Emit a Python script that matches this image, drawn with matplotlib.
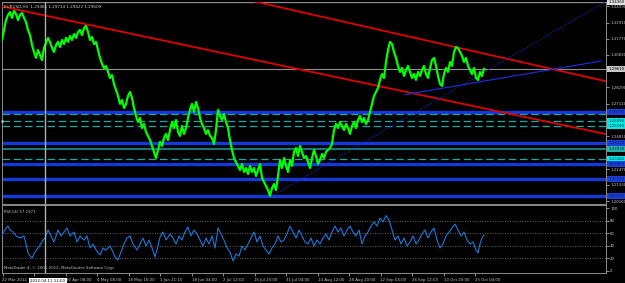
import matplotlib
matplotlib.use("Agg")
import matplotlib.pyplot as plt
import numpy as np

# ---------------- data ----------------
symbol_text = "EURUSD,H4  1.29481 1.29734 1.29422 1.29609"
rsi_text = "RSI(14) 57.1971"
copyright_text = "MetaTrader 4, \u00a9 2001-2012, MetaQuotes Software Corp."

# close prices, one sample every 2 bars
close_prices = [
    1.3167, 1.3238, 1.3309, 1.3345, 1.3366, 1.3324, 1.3374, 1.3352, 1.3309, 1.3345,
    1.3359, 1.3324, 1.3295, 1.3238, 1.3202, 1.3131, 1.3081, 1.3039, 1.3095, 1.3060,
    1.3024, 1.3110, 1.3145, 1.3181, 1.3153, 1.3110, 1.3081, 1.3131, 1.3153, 1.3117,
    1.3167, 1.3138, 1.3181, 1.3153, 1.3195, 1.3167, 1.3210, 1.3181, 1.3224, 1.3238,
    1.3202, 1.3252, 1.3267, 1.3224, 1.3167, 1.3188, 1.3138, 1.3153, 1.3095, 1.3039,
    1.2996, 1.2967, 1.2982, 1.2939, 1.2896, 1.2917, 1.2853, 1.2810, 1.2768, 1.2711,
    1.2739, 1.2682, 1.2711, 1.2768, 1.2796, 1.2753, 1.2682, 1.2625, 1.2582, 1.2611,
    1.2539, 1.2568, 1.2511, 1.2483, 1.2454, 1.2411, 1.2369, 1.2325, 1.2383, 1.2440,
    1.2411, 1.2468, 1.2497, 1.2454, 1.2525, 1.2582, 1.2539, 1.2596, 1.2511, 1.2483,
    1.2554, 1.2497, 1.2539, 1.2611, 1.2668, 1.2711, 1.2653, 1.2725, 1.2682, 1.2611,
    1.2568, 1.2539, 1.2497, 1.2525, 1.2483, 1.2468, 1.2425, 1.2525, 1.2668, 1.2625,
    1.2596, 1.2639, 1.2582, 1.2539, 1.2454, 1.2383, 1.2325, 1.2297, 1.2269, 1.2240,
    1.2283, 1.2226, 1.2254, 1.2211, 1.2269, 1.2226, 1.2254, 1.2197, 1.2240, 1.2283,
    1.2183, 1.2154, 1.2126, 1.2097, 1.2055, 1.2112, 1.2140, 1.2097, 1.2197, 1.2311,
    1.2254, 1.2325, 1.2269, 1.2226, 1.2311, 1.2269, 1.2369, 1.2397, 1.2340, 1.2411,
    1.2369, 1.2325, 1.2340, 1.2297, 1.2254, 1.2325, 1.2383, 1.2340, 1.2283, 1.2311,
    1.2354, 1.2325, 1.2369, 1.2383, 1.2397, 1.2425, 1.2525, 1.2568, 1.2539, 1.2582,
    1.2554, 1.2525, 1.2568, 1.2539, 1.2497, 1.2554, 1.2582, 1.2539, 1.2596, 1.2625,
    1.2582, 1.2611, 1.2568, 1.2596, 1.2653, 1.2711, 1.2768, 1.2796, 1.2825, 1.2882,
    1.2924, 1.2896, 1.3010, 1.3095, 1.3153, 1.3138, 1.3081, 1.3039, 1.2982, 1.2939,
    1.2967, 1.2910, 1.2953, 1.2982, 1.2939, 1.2896, 1.2924, 1.2882, 1.2939, 1.2910,
    1.2953, 1.2982, 1.2924, 1.2896, 1.2967, 1.3024, 1.3039, 1.2982, 1.2910, 1.2853,
    1.2839, 1.2924, 1.2967, 1.2939, 1.3010, 1.2982, 1.3081, 1.3117, 1.3110, 1.3081,
    1.3053, 1.3010, 1.3039, 1.2982, 1.2953, 1.2924, 1.2967, 1.2896, 1.2882, 1.2939,
    1.2910, 1.2961,
]
close_bars = np.arange(0, 2 * len(close_prices), 2)

rsi_bars = [0, 4, 6, 8, 11, 14, 18, 22, 24, 26, 28, 30, 33, 36, 38, 41, 43, 46, 49, 52,
            56, 59, 62, 65, 68, 72, 75, 78, 82, 85, 88, 91, 94, 98, 101, 104, 108, 111, 113, 116,
            119, 122, 125, 128, 131, 135, 138, 141, 144, 147, 150, 153, 156, 158, 161, 164, 168, 171, 174, 177,
            180, 183, 186, 189, 192, 195, 198, 201, 204, 207, 210, 213, 216, 219, 222, 225, 228, 231, 234, 237,
            240, 243, 246, 249, 252, 255, 258, 261, 264, 267, 270, 273, 276, 279, 282, 285, 288, 291, 294, 297,
            300, 303, 306, 309, 312, 315, 318, 321, 324, 327, 330, 333, 336, 339, 342, 345, 348, 351, 354, 357,
            360, 363, 366, 369, 372, 375, 378, 381, 384, 387, 390, 393, 396, 399, 402, 405, 408, 411, 414, 417,
            420, 423, 426, 429, 432, 435, 438, 441, 444, 447, 450, 453, 456, 459, 462, 465, 468, 471, 474, 476,
            478, 480, 482]
rsi_values = [57.1, 68.3, 71.4, 65.1, 61.9, 55.6, 52.4, 55.6, 42.9, 28.6, 23.8, 20.6, 30.2, 36.5, 41.3, 49.2, 52.4, 65.1, 55.6, 46.0,
              65.1, 55.6, 61.9, 68.3, 55.6, 61.9, 46.0, 55.6, 49.2, 55.6, 36.5, 42.9, 33.3, 25.4, 36.5, 33.3, 39.7, 30.2, 22.2, 17.5,
              30.2, 42.9, 52.4, 55.6, 42.9, 33.3, 42.9, 52.4, 39.7, 49.2, 36.5, 22.2, 39.7, 54.0, 61.9, 49.2, 58.7, 52.4, 42.9, 55.6,
              49.2, 61.9, 69.8, 55.6, 65.1, 58.7, 49.2, 39.7, 52.4, 42.9, 55.6, 36.5, 68.3, 58.7, 49.2, 36.5, 30.2, 15.9, 27.0, 23.8,
              39.7, 33.3, 42.9, 52.4, 61.9, 46.0, 55.6, 39.7, 33.3, 27.0, 36.5, 42.9, 55.6, 46.0, 49.2, 58.7, 71.4, 61.9, 52.4, 65.1,
              55.6, 46.0, 42.9, 52.4, 39.7, 49.2, 42.9, 52.4, 58.7, 49.2, 61.9, 71.4, 61.9, 68.3, 55.6, 65.1, 71.4, 61.9, 55.6, 65.1,
              42.9, 55.6, 61.9, 71.4, 77.8, 71.4, 84.1, 77.8, 88.0, 81.0, 65.1, 49.2, 55.6, 42.9, 52.4, 39.7, 46.0, 55.6, 42.9, 49.2,
              58.7, 65.1, 52.4, 61.9, 68.3, 49.2, 36.5, 42.9, 55.6, 61.9, 68.3, 74.6, 65.1, 55.6, 61.9, 49.2, 42.9, 46.0, 33.3, 28.6,
              42.9, 52.4, 57.2]

# horizontal levels
blue_levels = [1.2653, 1.2432, 1.2283, 1.2174, 1.2055]
teal_dashed_levels = [1.2637, 1.2589, 1.2554, 1.2316]
teal_solid_levels = [1.2393]
bid_price = 1.2961
cross_price = 1.3436
cross_bar = 43

# trend lines (bar, price) end points
red_line1_bars = [0, 603]
red_line1_prices = [1.3406, 1.2497]
red_line2_bars = [246, 603]
red_line2_prices = [1.3452, 1.2874]
blue_dotted_bars = [268, 603]
blue_dotted_prices = [1.2047, 1.3438]
blue_solid_bars = [403, 599]
blue_solid_prices = [1.2777, 1.3017]

price_ticks = [1.3409, 1.3291, 1.3177, 1.3063, 1.2829, 1.2712, 1.2481, 1.2247, 1.2133, 1.2016]
rsi_ticks = [100, 80, 60, 40, 20, 0]
rsi_levels = [80, 60, 40, 20]

time_tick_bars = [0.5, 32, 63.5, 95, 126.5, 158, 189.5, 221, 252.5, 284, 315.5, 347, 378.5, 410, 441.5, 473]
time_labels = ["22 Mar 2012", "", "20 Apr 08:00", "4 May 08:00", "18 May 16:00", "1 Jun 21:15",
               "18 Jun 04:00", "2 Jul 12:00", "16 Jul 20:00", "31 Jul 04:00", "14 Aug 12:00", "28 Aug 20:00",
               "12 Sep 04:00", "26 Sep 12:00", "10 Oct 20:00", "25 Oct 04:00"]
cross_time_label = "2012.04.11 12:00"

# label boxes at right price scale: (price, text, face, textcolor)
box_labels = [
    (1.2653, "1.26530", "#1a3fd6", "#0a1a70"),
    (1.2589, "1.25890", "#00e8e8", "#003030"),
    (1.2554, "1.25540", "#00e8e8", "#003030"),
    (1.2432, "1.24320", "#1a3fd6", "#0a1a70"),
    (1.2393, "1.23930", "#20b2aa", "#003030"),
    (1.2316, "1.23160", "#00e8e8", "#003030"),
    (1.2283, "1.22830", "#1a3fd6", "#0a1a70"),
    (1.2174, "1.21740", "#1a3fd6", "#0a1a70"),
    (1.2055, "1.20550", "#1a3fd6", "#0a1a70"),
]

# ---------------- figure ----------------
W, H = 625, 283
fig = plt.figure(figsize=(W / 100, H / 100), dpi=100, facecolor="black")
ax1 = fig.add_axes([2 / W, 1 - 204 / H, 604 / W, 202 / H])
ax2 = fig.add_axes([2 / W, 1 - 273 / H, 604 / W, 68 / H])

fs = 2.8
txtc = "#c8c8c8"
for ax in (ax1, ax2):
    ax.set_facecolor("black")
    for s in ax.spines.values():
        s.set_color("#8c8c8c")
        s.set_linewidth(0.7)
    ax.set_xlim(0, 604)

ax1.set_ylim(1.19975, 1.34377)
ax2.set_ylim(-3.2, 104.8)

# horizontal levels
for p in blue_levels:
    ax1.axhline(p, color="#1538d8", lw=2.4, zorder=2)
for p in teal_dashed_levels:
    ax1.axhline(p, color="#1aa8a0", lw=0.9, ls=(0, (6, 3)), zorder=2)
for p in teal_solid_levels:
    ax1.axhline(p, color="#17a098", lw=1.1, zorder=2)
ax1.axhline(bid_price, color="#909090", lw=0.8, zorder=2)
ax1.axhline(cross_price, color="#a0a0a0", lw=0.9, zorder=2)

# trend lines
ax1.plot(red_line1_bars, red_line1_prices, color="#e00000", lw=1.3, zorder=3)
ax1.plot(red_line2_bars, red_line2_prices, color="#e00000", lw=1.3, zorder=3)
ax1.plot(blue_dotted_bars, blue_dotted_prices, color="#1a2cd0", lw=0.8, ls=(0, (1, 1.5)), zorder=3)
ax1.plot(blue_solid_bars, blue_solid_prices, color="#1a2cd0", lw=0.9, zorder=3)

# price
ax1.plot(close_bars, close_prices, color="#00ff00", lw=1.6, zorder=4)

# crosshair vertical line
for ax in (ax1, ax2):
    ax.axvline(cross_bar, color="#b0b0b0", lw=1.0, zorder=5)

# axes ticks
ax1.set_xticks([])
ax1.yaxis.tick_right()
ax1.set_yticks(price_ticks)
ax1.set_yticklabels([f"{t:.5f}" for t in price_ticks])
ax1.tick_params(axis="y", colors=txtc, labelsize=fs, length=2, width=0.5, pad=1)

# right label boxes
ytr = ax1.get_yaxis_transform()
for p, t, fc, tc in box_labels:
    ax1.text(1.004, p, t, transform=ytr, ha="left", va="center", fontsize=fs, color=tc,
             bbox=dict(boxstyle="square,pad=0.25", fc=fc, ec="none"), clip_on=False, zorder=6)
ax1.text(1.004, bid_price, f"{bid_price:.5f}", transform=ytr, ha="left", va="center", fontsize=fs,
         color="black", bbox=dict(boxstyle="square,pad=0.25", fc="#c8c8c8", ec="none"), clip_on=False, zorder=6)
ax1.text(1.004, cross_price, f"{cross_price:.5f}", transform=ytr, ha="left", va="center", fontsize=fs,
         color="black", bbox=dict(boxstyle="square,pad=0.25", fc="#e0e0e0", ec="none"), clip_on=False, zorder=6)
ax1.plot([0], [teal_dashed_levels[1]], marker="s", ms=2, color="#a0ffff", mec="none", clip_on=False, zorder=6)

ax1.text(0.004, 0.975, symbol_text, transform=ax1.transAxes, ha="left", va="center",
         fontsize=3.0, color=txtc, zorder=6)

# RSI
for lv in rsi_levels:
    ax2.axhline(lv, color="#808080", lw=0.6, ls=(0, (1, 2)), zorder=1)
ax2.plot(rsi_bars, rsi_values, color="#1e78d8", lw=0.8, zorder=3)
ax2.yaxis.tick_right()
ax2.set_yticks(rsi_ticks)
ax2.set_yticklabels([str(t) for t in rsi_ticks])
ax2.tick_params(axis="y", colors=txtc, labelsize=fs, length=2, width=0.5, pad=1)
ax2.set_xticks(time_tick_bars)
ax2.set_xticklabels(time_labels)
ax2.tick_params(axis="x", colors=txtc, labelsize=fs, length=2, width=0.5, pad=1.5)
for lab in ax2.get_xticklabels():
    lab.set_ha("left")
ax2.text(0.004, 0.9, rsi_text, transform=ax2.transAxes, ha="left", va="center", fontsize=fs, color=txtc)
ax2.text(0.004, 0.07, copyright_text, transform=ax2.transAxes, ha="left", va="center", fontsize=fs, color=txtc)
ax2.annotate(cross_time_label, xy=(cross_bar + 3, 0), xycoords=("data", "axes fraction"),
             xytext=(0, -6), textcoords="offset points", ha="center", va="center", fontsize=fs,
             color="black", bbox=dict(boxstyle="square,pad=0.3", fc="white", ec="none"),
             annotation_clip=False, zorder=7)

fig.savefig("out.png", dpi=100, facecolor="black")
